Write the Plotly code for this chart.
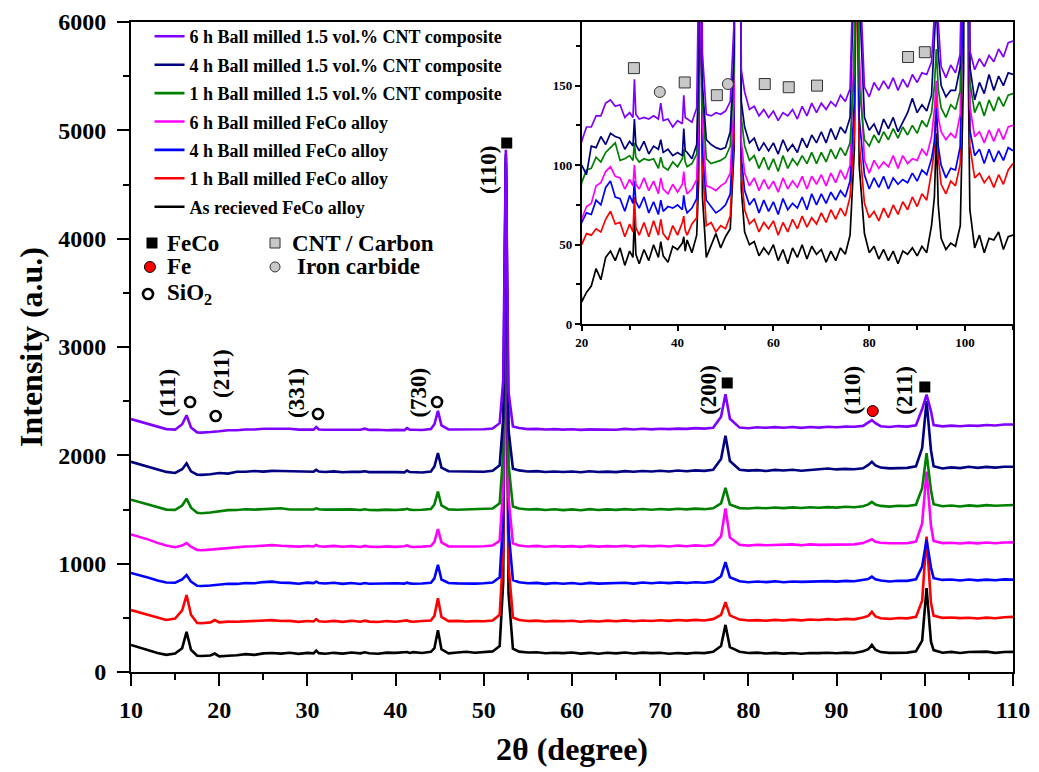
import plotly.graph_objects as go

# ---------------- data ----------------
TWO_THETA = [
    10, 11, 12, 13, 14, 15, 15.8, 16.3, 16.8, 17.5, 18, 19, 19.5,
    20, 21, 22, 23, 24, 25, 26, 27, 28, 29, 30,
    30.7, 31.0, 31.3, 32, 33, 34, 35, 36, 36.5, 37, 38, 39, 40, 41, 41.3, 41.6, 42, 43, 44,
    44.4, 44.8, 45.2, 46, 47, 48, 49, 50, 51,
    51.8, 52.2, 52.5, 52.8, 53.3,
    54, 55, 56, 57, 58, 59, 60, 61, 62, 63, 64, 65, 66, 67, 68, 69, 70, 71, 72, 73, 74, 75, 76,
    76.9, 77.4, 77.9,
    79, 80, 81, 82, 83, 84, 85, 86, 87, 88, 89, 90, 91, 92, 93,
    93.6, 94.0, 94.4,
    95, 96, 97, 98, 99,
    99.7, 100.2, 100.7,
    101, 102, 103, 104, 105, 106, 107, 108, 109, 110,
]

AS_RECEIVED = [
    120, 95, 70, 45, 28, 40, 90, 240, 75, 20, 18, 22, 40,
    14, 20, 24, 35, 28, 42, 46, 40, 48, 37, 46,
    42, 68, 44, 38, 47, 40, 50, 42, 52, 43, 39, 49, 47, 51, 55, 46, 53, 45, 56,
    90, 255, 80, 42, 50, 57, 48, 55, 60,
    110, 700, 4470, 600, 85,
    58, 50, 52, 43, 48, 44, 50, 40, 47, 38, 48, 42, 50, 41, 49, 44, 47, 39, 46, 40, 48, 44, 56,
    110, 305, 100,
    57, 45, 49, 41, 47, 40, 46, 38, 46, 44, 48, 43, 49, 45, 62,
    80, 120, 75,
    54, 47, 51, 49, 62,
    160, 645, 150,
    72, 48, 56, 45, 54, 53, 58, 47, 55, 56,
]

FECO_1H = [
    164, 140, 115, 90, 72, 85, 160, 302, 120, 45, 42, 50, 72,
    50, 57, 56, 60, 58, 66, 71, 63, 64, 55, 63,
    58, 80, 61, 56, 64, 55, 65, 56, 66, 57, 53, 62, 56, 64, 68, 59, 56, 63, 67,
    110, 272, 100, 62, 64, 58, 62, 60, 68,
    120, 680, 4242, 580, 95,
    72, 63, 66, 58, 64, 60, 65, 56, 64, 58, 66, 60, 68, 61, 67, 63, 70, 64, 72, 66, 73, 68, 80,
    120, 237, 115,
    76, 67, 71, 65, 73, 67, 75, 69, 77, 72, 80, 74, 82, 78, 96,
    110, 147, 105,
    88, 82, 90, 87, 101,
    250, 842, 230,
    112, 92, 95, 89, 93, 86, 94, 88, 97, 101,
]

FECO_4H = [
    171, 150, 125, 100, 82, 80, 110, 151, 90, 52, 50, 55, 60,
    64, 70, 69, 78, 75, 86, 90, 80, 79, 71, 81,
    76, 90, 77, 73, 80, 70, 77, 69, 78, 71, 74, 73, 75, 72, 81, 74, 70, 73, 79,
    120, 246, 110, 78, 74, 70, 72, 75, 82,
    130, 660, 3956, 560, 105,
    84, 75, 79, 70, 78, 71, 77, 69, 79, 72, 76, 73, 80, 72, 82, 75, 82, 76, 83, 78, 84, 80, 90,
    140, 271, 130,
    94, 85, 92, 86, 93, 85, 92, 88, 91, 89, 95, 90, 97, 94, 104,
    115, 136, 112,
    100, 92, 98, 97, 112,
    230, 476, 220,
    122, 106, 110, 101, 110, 102, 109, 103, 111, 109,
]

FECO_6H = [
    198, 175, 150, 120, 95, 80, 95, 118, 85, 55, 52, 58, 62,
    66, 74, 76, 87, 89, 96, 99, 93, 92, 85, 91,
    87, 100, 88, 85, 92, 84, 90, 82, 92, 85, 82, 88, 83, 88, 96, 87, 82, 85, 91,
    130, 248, 125, 87, 86, 84, 87, 89, 95,
    140, 640, 3628, 540, 115,
    95, 87, 92, 84, 91, 85, 90, 83, 92, 85, 90, 86, 93, 85, 93, 88, 94, 87, 95, 89, 97, 91, 100,
    180, 438, 170,
    103, 95, 103, 98, 102, 99, 106, 98, 106, 101, 104, 103, 110, 106, 118,
    135, 153, 130,
    121, 116, 120, 117, 132,
    300, 778, 280,
    137, 118, 121, 114, 122, 115, 123, 116, 124, 125,
]

CNT_1H = [
    193, 170, 145, 120, 102, 100, 140, 203, 120, 72, 68, 75, 80,
    89, 97, 98, 105, 102, 108, 111, 114, 103, 104, 106,
    103, 114, 105, 102, 104, 103, 104, 98, 105, 99, 97, 102, 99, 104, 110, 102, 99, 101, 107,
    150, 268, 140, 104, 101, 102, 103, 105, 112,
    160, 620, 3353, 520, 130,
    112, 103, 106, 98, 105, 97, 104, 96, 106, 98, 104, 100, 106, 101, 108, 101, 108, 102, 110, 104, 111, 106, 114,
    160, 303, 150,
    116, 112, 119, 114, 121, 116, 123, 117, 124, 119, 125, 120, 128, 124, 133,
    150, 173, 148,
    136, 130, 138, 135, 147,
    300, 623, 280,
    152, 133, 140, 131, 141, 134, 143, 137, 144, 145,
]

CNT_4H = [
    203, 180, 155, 130, 110, 100, 135, 188, 115, 85, 83, 88, 92,
    100, 94, 112, 111, 118, 113, 120, 118, 117, 110, 115,
    112, 129, 113, 109, 115, 107, 112, 110, 116, 108, 110, 106, 108, 106, 123, 109, 108, 104, 113,
    160, 283, 150, 116, 113, 111, 110, 111, 121,
    170, 600, 3043, 500, 140,
    124, 114, 117, 109, 114, 109, 114, 107, 116, 109, 113, 108, 117, 111, 119, 114, 121, 114, 123, 116, 124, 120, 130,
    230, 443, 210,
    130, 122, 126, 119, 129, 123, 130, 121, 127, 133, 142, 133, 138, 134, 144,
    175, 203, 170,
    150, 143, 147, 147, 162,
    330, 763, 310,
    162, 141, 152, 145, 157, 147, 156, 150, 158, 157,
]

CNT_6H = [
    228, 205, 180, 155, 135, 130, 180, 263, 150, 105, 103, 108, 110,
    115, 124, 124, 131, 131, 139, 141, 137, 138, 130, 133,
    130, 154, 132, 129, 130, 129, 131, 129, 139, 128, 129, 124, 128, 126, 144, 130, 129, 127, 136,
    180, 303, 170, 132, 131, 133, 132, 134, 140,
    190, 580, 2713, 480, 160,
    146, 135, 137, 131, 135, 130, 134, 128, 133, 131, 135, 129, 137, 131, 139, 133, 139, 135, 140, 137, 144, 140, 148,
    250, 458, 230,
    149, 143, 152, 147, 153, 148, 155, 147, 154, 149, 157, 152, 158, 157, 165,
    195, 218, 190,
    162, 155, 163, 158, 170,
    320, 453, 300,
    172, 160, 167, 162, 169, 165, 173, 168, 177, 178,
]

SERIES_NAMES = [
    "As recieved FeCo alloy",
    "1 h Ball milled FeCo alloy",
    "4 h Ball milled FeCo alloy",
    "6 h Ball milled FeCo alloy",
    "1 h Ball milled 1.5 vol.% CNT composite",
    "4 h Ball milled 1.5 vol.% CNT composite",
    "6 h Ball milled 1.5 vol.% CNT composite",
]
SERIES_VALUES = [AS_RECEIVED, FECO_1H, FECO_4H, FECO_6H, CNT_1H, CNT_4H, CNT_6H]
# vertical stacking offsets used in the main panel (inset shows unshifted counts)
MAIN_OFFSETS = [130, 408, 744, 1072, 1397, 1737, 2107]
COLORS = ["#000000", "#FF0000", "#0000FF", "#FF00FF", "#008000", "#000080", "#8000FF"]

for v in SERIES_VALUES:
    assert len(v) == len(TWO_THETA), len(v)

# phase markers
SIO2_X = [16.7, 19.6, 31.2, 44.7]
SIO2_Y = [2492, 2363, 2382, 2492]
FECO_X = [52.6, 77.6, 100.0]
FECO_Y = [4883, 2668, 2631]
FE_X = [94.1]
FE_Y = [2409]
CNT_MARK_X = [30.9, 41.5, 48.2, 58.2, 63.2, 69.1, 88.1, 91.6]
CNT_MARK_Y = [161, 152, 144, 151, 149, 150, 168, 171]
FE3C_MARK_X = [36.3, 50.5]
FE3C_MARK_Y = [146, 151]

PEAK_LABELS = ["(111)", "(211)", "(331)", "(730)", "(110)", "(200)", "(110)", "(211)"]
PEAK_LABEL_X = [14.1, 20.2, 28.7, 42.6, 50.6, 75.4, 91.8, 97.6]
PEAK_LABEL_Y = [2575, 2760, 2575, 2575, 4634, 2603, 2603, 2603]

FONT = "Liberation Serif, Times New Roman, serif"

fig = go.Figure()

n = len(SERIES_NAMES)
for i, (name, vals, off, col) in enumerate(zip(SERIES_NAMES, SERIES_VALUES, MAIN_OFFSETS, COLORS)):
    fig.add_trace(go.Scatter(
        x=TWO_THETA, y=[v + off for v in vals], mode="lines", name=name,
        legendgroup=name, legendrank=100 * (n - i),
        line=dict(color=col, width=2.6), xaxis="x", yaxis="y"))

for name, vals, col in zip(SERIES_NAMES, SERIES_VALUES, COLORS):
    fig.add_trace(go.Scatter(
        x=TWO_THETA, y=vals, mode="lines", showlegend=False,
        line=dict(color=col, width=1.7), xaxis="x2", yaxis="y2"))

# key + peak phase markers (main panel)
fig.add_trace(go.Scatter(x=[12.38] + FECO_X, y=[3960] + FECO_Y, mode="markers", showlegend=False,
                         marker=dict(symbol="square", size=11, color="black"), xaxis="x", yaxis="y"))
fig.add_trace(go.Scatter(x=[12.15] + FE_X, y=[3739] + FE_Y, mode="markers", showlegend=False,
                         marker=dict(symbol="circle", size=11, color="#FF0000",
                                     line=dict(color="black", width=1)), xaxis="x", yaxis="y"))
fig.add_trace(go.Scatter(x=[11.93] + SIO2_X, y=[3489] + SIO2_Y, mode="markers", showlegend=False,
                         marker=dict(symbol="circle", size=10, color="white",
                                     line=dict(color="black", width=2.6)), xaxis="x", yaxis="y"))
fig.add_trace(go.Scatter(x=[26.33], y=[3960], mode="markers", showlegend=False,
                         marker=dict(symbol="square", size=10, color="#c8c8c8",
                                     line=dict(color="#333333", width=1)), xaxis="x", yaxis="y"))
fig.add_trace(go.Scatter(x=[26.33], y=[3739], mode="markers", showlegend=False,
                         marker=dict(symbol="circle", size=10, color="#c8c8c8",
                                     line=dict(color="#333333", width=1)), xaxis="x", yaxis="y"))
# inset markers
fig.add_trace(go.Scatter(x=CNT_MARK_X, y=CNT_MARK_Y, mode="markers", showlegend=False,
                         marker=dict(symbol="square", size=11, color="#c8c8c8",
                                     line=dict(color="#333333", width=1)), xaxis="x2", yaxis="y2"))
fig.add_trace(go.Scatter(x=FE3C_MARK_X, y=FE3C_MARK_Y, mode="markers", showlegend=False,
                         marker=dict(symbol="circle", size=11, color="#c8c8c8",
                                     line=dict(color="#333333", width=1)), xaxis="x2", yaxis="y2"))

annotations = []
for t, x, y in zip(PEAK_LABELS, PEAK_LABEL_X, PEAK_LABEL_Y):
    annotations.append(dict(x=x, y=y, xref="x", yref="y", text=t, textangle=-90, showarrow=False,
                            font=dict(family=FONT, size=23, color="black", weight="bold"),
                            xanchor="center", yanchor="middle"))
KEY_TEXT = ["FeCo", "Fe", "SiO<sub>2</sub>", "CNT / Carbon", "Iron carbide"]
KEY_X = [13.85, 13.85, 13.85, 28.03, 28.6]
KEY_Y = [3960, 3739, 3489, 3960, 3739]
for t, x, y in zip(KEY_TEXT, KEY_X, KEY_Y):
    annotations.append(dict(x=x, y=y, xref="x", yref="y", text=t, showarrow=False,
                            font=dict(family=FONT, size=23, color="black", weight="bold"),
                            xanchor="left", yanchor="middle"))

fig.update_layout(
    width=1039, height=772,
    margin=dict(l=131, r=26, t=22, b=100),
    paper_bgcolor="white", plot_bgcolor="white",
    font=dict(family=FONT, color="black", weight="bold"),
    showlegend=True,
    legend=dict(x=0.021, y=1.006, xanchor="left", yanchor="top", bgcolor="rgba(0,0,0,0)",
                font=dict(family=FONT, size=18, color="black", weight="bold"),
                traceorder="grouped", tracegroupgap=2),
    xaxis=dict(domain=[0, 1], range=[10, 110], dtick=10, tick0=10, ticks="outside", ticklen=12,
               tickwidth=2, tickcolor="black", showline=True, linewidth=2, linecolor="black",
               mirror=True, showgrid=False, zeroline=False, ticklabelstandoff=3, automargin=False,
               minor=dict(dtick=5, ticklen=6, tickwidth=2, tickcolor="black", ticks="outside"),
               tickfont=dict(family=FONT, size=24, color="black", weight="bold"),
               title=dict(text="2θ (degree)", standoff=16,
                          font=dict(family=FONT, size=32, color="black", weight="bold"))),
    yaxis=dict(domain=[0, 1], range=[0, 6000], dtick=1000, ticks="outside", ticklen=12,
               tickwidth=2, tickcolor="black", showline=True, linewidth=2, linecolor="black",
               mirror=True, showgrid=False, zeroline=False, ticklabelstandoff=6, automargin=False,
               minor=dict(dtick=500, ticklen=6, tickwidth=2, tickcolor="black", ticks="outside"),
               tickfont=dict(family=FONT, size=24, color="black", weight="bold"),
               title=dict(text="Intensity (a.u.)", standoff=6,
                          font=dict(family=FONT, size=32, color="black", weight="bold"))),
    xaxis2=dict(domain=[0.511, 1.0], anchor="y2", range=[20, 110], tickvals=[20, 40, 60, 80, 100],
                ticks="outside", ticklen=5, tickwidth=1.5, tickcolor="black", showline=True,
                linewidth=1.5, linecolor="black", showgrid=False, zeroline=False,
                minor=dict(tickvals=[30, 50, 70, 90, 110], ticklen=4, tickwidth=1.5,
                           tickcolor="black", ticks="outside"),
                tickfont=dict(family=FONT, size=13, color="black", weight="bold")),
    yaxis2=dict(domain=[0.535, 1.0], anchor="x2", range=[0, 190], dtick=50,
                ticks="outside", ticklen=5, tickwidth=1.5, tickcolor="black", showline=True,
                linewidth=1.5, linecolor="black", showgrid=False, zeroline=False,
                minor=dict(dtick=25, ticklen=4, tickwidth=1.5, tickcolor="black", ticks="outside"),
                tickfont=dict(family=FONT, size=13, color="black", weight="bold")),
    annotations=annotations,
)

fig.write_html("out.html")
